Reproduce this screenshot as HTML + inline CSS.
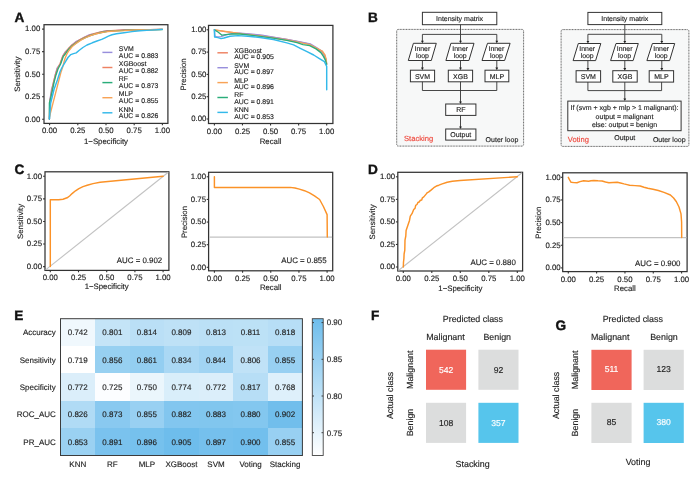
<!DOCTYPE html>
<html lang="en"><head><meta charset="utf-8"><title>Figure</title>
<style>html,body{margin:0;padding:0;background:#fff}svg{display:block;filter:blur(0.35px)}text{text-rendering:geometricPrecision;stroke-width:0.14px;paint-order:stroke}</style>
</head><body>
<svg width="700" height="477" viewBox="0 0 700 477" font-family='"Liberation Sans", sans-serif'>
<rect width="700" height="477" fill="#fff"/>
<text x="14.4" y="22.3" font-size="13.6" font-weight="bold" fill="#111" stroke="#111" style="stroke-width:0.4px">A</text>
<text x="368.1" y="22.3" font-size="13.6" font-weight="bold" fill="#111" stroke="#111" style="stroke-width:0.4px">B</text>
<text x="14.4" y="173.9" font-size="13.6" font-weight="bold" fill="#111" stroke="#111" style="stroke-width:0.4px">C</text>
<text x="368.0" y="173.9" font-size="13.6" font-weight="bold" fill="#111" stroke="#111" style="stroke-width:0.4px">D</text>
<text x="14.3" y="320.0" font-size="13.6" font-weight="bold" fill="#111" stroke="#111" style="stroke-width:0.4px">E</text>
<text x="371.0" y="320.0" font-size="13.6" font-weight="bold" fill="#111" stroke="#111" style="stroke-width:0.4px">F</text>
<text x="555.6" y="329.9" font-size="13.6" font-weight="bold" fill="#111" stroke="#111" style="stroke-width:0.4px">G</text>
<rect x="44.00" y="24.70" width="123.90" height="98.70" fill="#fff" stroke="#333" stroke-width="1.25"/>
<line x1="49.60" y1="123.40" x2="49.60" y2="125.30" stroke="#333" stroke-width="1.1"/>
<text x="49.60" y="133.29" font-size="7.8" text-anchor="middle" fill="#222" stroke="#222">0.00</text>
<line x1="42.10" y1="119.30" x2="44.00" y2="119.30" stroke="#333" stroke-width="1.1"/>
<text x="40.30" y="121.69" font-size="7.8" text-anchor="end" fill="#222" stroke="#222">0.00</text>
<line x1="77.80" y1="123.40" x2="77.80" y2="125.30" stroke="#333" stroke-width="1.1"/>
<text x="77.80" y="133.29" font-size="7.8" text-anchor="middle" fill="#222" stroke="#222">0.25</text>
<line x1="42.10" y1="96.75" x2="44.00" y2="96.75" stroke="#333" stroke-width="1.1"/>
<text x="40.30" y="99.14" font-size="7.8" text-anchor="end" fill="#222" stroke="#222">0.25</text>
<line x1="106.00" y1="123.40" x2="106.00" y2="125.30" stroke="#333" stroke-width="1.1"/>
<text x="106.00" y="133.29" font-size="7.8" text-anchor="middle" fill="#222" stroke="#222">0.50</text>
<line x1="42.10" y1="74.20" x2="44.00" y2="74.20" stroke="#333" stroke-width="1.1"/>
<text x="40.30" y="76.59" font-size="7.8" text-anchor="end" fill="#222" stroke="#222">0.50</text>
<line x1="134.20" y1="123.40" x2="134.20" y2="125.30" stroke="#333" stroke-width="1.1"/>
<text x="134.20" y="133.29" font-size="7.8" text-anchor="middle" fill="#222" stroke="#222">0.75</text>
<line x1="42.10" y1="51.65" x2="44.00" y2="51.65" stroke="#333" stroke-width="1.1"/>
<text x="40.30" y="54.04" font-size="7.8" text-anchor="end" fill="#222" stroke="#222">0.75</text>
<line x1="162.40" y1="123.40" x2="162.40" y2="125.30" stroke="#333" stroke-width="1.1"/>
<text x="162.40" y="133.29" font-size="7.8" text-anchor="middle" fill="#222" stroke="#222">1.00</text>
<line x1="42.10" y1="29.10" x2="44.00" y2="29.10" stroke="#333" stroke-width="1.1"/>
<text x="40.30" y="31.49" font-size="7.8" text-anchor="end" fill="#222" stroke="#222">1.00</text>
<text x="106.00" y="143.99" font-size="7.8" text-anchor="middle" fill="#222" stroke="#222">1−Specificity</text>
<text transform="translate(16.80 74.20) rotate(-90)" x="0" y="2.79" font-size="7.8" text-anchor="middle" fill="#222" stroke="#222">Sensitivity</text>
<polyline points="49.4,119.0 49.8,108.2 49.9,100.2 51.6,89.1 53.7,82.2 55.3,74.7 57.1,68.1 60.3,63.8 62.7,56.1 65.1,52.1 68.4,49.0 71.9,44.9 75.8,41.7 80.2,39.7 84.2,37.3 89.6,34.6 95.2,33.6 100.9,31.9 106.7,30.6 115.2,30.6 123.9,29.9 135.0,29.8 150.0,29.6 162.4,29.4" fill="none" stroke="#988fdc" stroke-width="1.35" stroke-linejoin="round" stroke-linecap="round"/>
<polyline points="49.4,119.0 49.6,108.0 50.0,100.3 52.0,89.5 53.5,82.0 55.4,74.8 57.5,68.5 60.1,63.6 62.8,56.2 65.5,52.5 68.2,48.8 72.0,45.0 76.2,42.1 80.0,39.5 84.3,37.4 90.0,35.0 95.0,33.4 101.0,32.0 107.1,31.0 115.0,30.4 124.0,30.0 135.0,29.8 150.0,29.6 162.4,29.4" fill="none" stroke="#ee8262" stroke-width="1.35" stroke-linejoin="round" stroke-linecap="round"/>
<polyline points="49.4,119.0 49.4,103.0 50.3,99.6 52.5,90.0 54.0,82.5 55.9,75.2 58.0,69.0 60.6,64.0 63.2,56.7 66.0,53.0 68.7,49.2 72.5,45.5 76.7,42.6 80.5,40.0 84.8,37.9 90.5,35.5 95.5,33.9 101.5,32.5 107.5,31.4 115.5,30.8 124.5,30.4 135.0,29.9 150.0,29.8 162.4,29.5" fill="none" stroke="#2aad7a" stroke-width="1.35" stroke-linejoin="round" stroke-linecap="round"/>
<polyline points="49.4,117.0 60.8,72.8 62.8,66.7 64.0,62.0 65.2,58.0 66.8,54.2 69.0,50.5 72.0,46.8 76.0,43.5 80.5,40.4 85.0,38.0 90.5,35.6 95.5,34.0 101.5,32.6 107.6,31.6 115.5,31.0 124.5,30.6 135.0,29.8 150.0,29.6 162.4,29.4" fill="none" stroke="#f8a356" stroke-width="1.35" stroke-linejoin="round" stroke-linecap="round"/>
<polyline points="49.4,119.0 50.7,103.0 54.0,89.5 57.4,80.0 60.1,71.5 62.0,67.5 65.5,61.6 68.0,57.5 70.8,54.6 73.5,53.6 76.2,52.9 79.0,50.5 82.9,47.5 87.0,45.0 92.3,42.8 97.0,41.0 101.7,39.4 105.0,37.8 108.4,36.1 112.0,34.8 116.5,33.7 124.0,32.7 132.0,31.6 140.0,30.8 150.0,30.1 162.4,29.4" fill="none" stroke="#33b9ea" stroke-width="1.45" stroke-linejoin="round" stroke-linecap="round"/>
<line x1="102.4" y1="52.40" x2="112.4" y2="52.40" stroke="#988fdc" stroke-width="1.45"/>
<text x="118.80" y="51.17" font-size="6.9" fill="#222" stroke="#222">SVM</text>
<text x="118.80" y="57.97" font-size="6.9" fill="#222" stroke="#222">AUC = 0.883</text>
<line x1="102.4" y1="67.50" x2="112.4" y2="67.50" stroke="#ee8262" stroke-width="1.45"/>
<text x="118.80" y="66.27" font-size="6.9" fill="#222" stroke="#222">XGBoost</text>
<text x="118.80" y="73.07" font-size="6.9" fill="#222" stroke="#222">AUC = 0.882</text>
<line x1="102.4" y1="82.60" x2="112.4" y2="82.60" stroke="#2aad7a" stroke-width="1.45"/>
<text x="118.80" y="81.37" font-size="6.9" fill="#222" stroke="#222">RF</text>
<text x="118.80" y="88.17" font-size="6.9" fill="#222" stroke="#222">AUC = 0.873</text>
<line x1="102.4" y1="97.70" x2="112.4" y2="97.70" stroke="#f8a356" stroke-width="1.45"/>
<text x="118.80" y="96.47" font-size="6.9" fill="#222" stroke="#222">MLP</text>
<text x="118.80" y="103.27" font-size="6.9" fill="#222" stroke="#222">AUC = 0.855</text>
<line x1="102.4" y1="112.80" x2="112.4" y2="112.80" stroke="#33b9ea" stroke-width="1.45"/>
<text x="118.80" y="111.57" font-size="6.9" fill="#222" stroke="#222">KNN</text>
<text x="118.80" y="118.37" font-size="6.9" fill="#222" stroke="#222">AUC = 0.826</text>
<rect x="208.50" y="25.40" width="124.40" height="98.10" fill="#fff" stroke="#333" stroke-width="1.25"/>
<line x1="214.40" y1="123.50" x2="214.40" y2="125.40" stroke="#333" stroke-width="1.1"/>
<text x="214.40" y="133.59" font-size="7.8" text-anchor="middle" fill="#222" stroke="#222">0.00</text>
<line x1="206.60" y1="119.00" x2="208.50" y2="119.00" stroke="#333" stroke-width="1.1"/>
<text x="206.40" y="121.39" font-size="7.8" text-anchor="end" fill="#222" stroke="#222">0.00</text>
<line x1="242.47" y1="123.50" x2="242.47" y2="125.40" stroke="#333" stroke-width="1.1"/>
<text x="242.47" y="133.59" font-size="7.8" text-anchor="middle" fill="#222" stroke="#222">0.25</text>
<line x1="206.60" y1="96.70" x2="208.50" y2="96.70" stroke="#333" stroke-width="1.1"/>
<text x="206.40" y="99.09" font-size="7.8" text-anchor="end" fill="#222" stroke="#222">0.25</text>
<line x1="270.55" y1="123.50" x2="270.55" y2="125.40" stroke="#333" stroke-width="1.1"/>
<text x="270.55" y="133.59" font-size="7.8" text-anchor="middle" fill="#222" stroke="#222">0.50</text>
<line x1="206.60" y1="74.40" x2="208.50" y2="74.40" stroke="#333" stroke-width="1.1"/>
<text x="206.40" y="76.79" font-size="7.8" text-anchor="end" fill="#222" stroke="#222">0.50</text>
<line x1="298.62" y1="123.50" x2="298.62" y2="125.40" stroke="#333" stroke-width="1.1"/>
<text x="298.62" y="133.59" font-size="7.8" text-anchor="middle" fill="#222" stroke="#222">0.75</text>
<line x1="206.60" y1="52.10" x2="208.50" y2="52.10" stroke="#333" stroke-width="1.1"/>
<text x="206.40" y="54.49" font-size="7.8" text-anchor="end" fill="#222" stroke="#222">0.75</text>
<line x1="326.70" y1="123.50" x2="326.70" y2="125.40" stroke="#333" stroke-width="1.1"/>
<text x="326.70" y="133.59" font-size="7.8" text-anchor="middle" fill="#222" stroke="#222">1.00</text>
<line x1="206.60" y1="29.80" x2="208.50" y2="29.80" stroke="#333" stroke-width="1.1"/>
<text x="206.40" y="32.19" font-size="7.8" text-anchor="end" fill="#222" stroke="#222">1.00</text>
<text x="270.55" y="143.79" font-size="7.8" text-anchor="middle" fill="#222" stroke="#222">Recall</text>
<text transform="translate(183.40 74.40) rotate(-90)" x="0" y="2.79" font-size="7.8" text-anchor="middle" fill="#222" stroke="#222">Precision</text>
<polyline points="214.4,29.8 225.0,31.6 240.0,33.4 260.0,35.5 273.4,37.5 286.8,39.5 300.3,42.2 309.7,44.2 316.4,48.3 321.7,51.6 324.4,55.6 326.0,60.0 326.6,64.0" fill="none" stroke="#ee8262" stroke-width="1.35" stroke-linejoin="round" stroke-linecap="round"/>
<polyline points="214.4,30.5 214.9,36.0 217.0,37.0 221.0,36.6 226.0,34.8 232.0,33.6 240.0,33.2 252.0,34.2 262.0,35.2 273.4,37.2 286.8,39.3 300.3,42.0 310.2,43.8 316.9,47.8 322.0,51.2 324.8,56.0 326.2,60.5 326.6,64.0" fill="none" stroke="#988fdc" stroke-width="1.35" stroke-linejoin="round" stroke-linecap="round"/>
<polyline points="214.4,29.8 222.0,30.8 232.0,32.4 244.0,34.2 260.0,36.0 273.4,38.0 286.8,40.0 300.3,42.7 309.7,44.7 316.4,48.0 322.2,51.0 325.0,55.0 326.3,60.0 326.6,64.0" fill="none" stroke="#f8a356" stroke-width="1.35" stroke-linejoin="round" stroke-linecap="round"/>
<polyline points="214.4,29.8 218.0,32.0 222.0,35.2 226.0,34.6 232.0,33.8 240.0,34.0 250.0,35.2 260.0,36.4 273.4,38.2 286.8,40.3 297.0,42.6 303.0,44.6 309.7,45.6 316.0,48.9 320.9,52.6 323.6,56.6 325.6,60.6 326.6,64.5" fill="none" stroke="#2aad7a" stroke-width="1.35" stroke-linejoin="round" stroke-linecap="round"/>
<polyline points="214.4,29.8 214.6,37.0 218.0,37.6 221.0,38.6 224.0,38.0 230.0,36.2 238.0,35.6 248.0,36.2 260.0,37.5 273.4,39.5 286.8,42.9 293.6,44.9 300.3,48.3 307.0,51.6 313.7,55.0 319.0,58.3 324.4,61.7 326.7,66.4 326.7,89.8" fill="none" stroke="#33b9ea" stroke-width="1.45" stroke-linejoin="round" stroke-linecap="round"/>
<line x1="217.4" y1="52.80" x2="227.9" y2="52.80" stroke="#ee8262" stroke-width="1.45"/>
<text x="234.20" y="52.77" font-size="6.9" fill="#222" stroke="#222">XGBoost</text>
<text x="234.20" y="59.27" font-size="6.9" fill="#222" stroke="#222">AUC = 0.905</text>
<line x1="217.4" y1="67.70" x2="227.9" y2="67.70" stroke="#988fdc" stroke-width="1.45"/>
<text x="234.20" y="67.67" font-size="6.9" fill="#222" stroke="#222">SVM</text>
<text x="234.20" y="74.17" font-size="6.9" fill="#222" stroke="#222">AUC = 0.897</text>
<line x1="217.4" y1="82.60" x2="227.9" y2="82.60" stroke="#f8a356" stroke-width="1.45"/>
<text x="234.20" y="82.57" font-size="6.9" fill="#222" stroke="#222">MLP</text>
<text x="234.20" y="89.07" font-size="6.9" fill="#222" stroke="#222">AUC = 0.896</text>
<line x1="217.4" y1="97.50" x2="227.9" y2="97.50" stroke="#2aad7a" stroke-width="1.45"/>
<text x="234.20" y="97.47" font-size="6.9" fill="#222" stroke="#222">RF</text>
<text x="234.20" y="103.97" font-size="6.9" fill="#222" stroke="#222">AUC = 0.891</text>
<line x1="217.4" y1="112.40" x2="227.9" y2="112.40" stroke="#33b9ea" stroke-width="1.45"/>
<text x="234.20" y="112.37" font-size="6.9" fill="#222" stroke="#222">KNN</text>
<text x="234.20" y="118.87" font-size="6.9" fill="#222" stroke="#222">AUC = 0.853</text>
<rect x="45.00" y="171.80" width="123.90" height="98.60" fill="#fff" stroke="#333" stroke-width="1.25"/>
<line x1="50.30" y1="270.40" x2="50.30" y2="272.30" stroke="#333" stroke-width="1.1"/>
<text x="50.30" y="279.89" font-size="7.8" text-anchor="middle" fill="#222" stroke="#222">0.00</text>
<line x1="43.10" y1="266.60" x2="45.00" y2="266.60" stroke="#333" stroke-width="1.1"/>
<text x="42.00" y="268.99" font-size="7.8" text-anchor="end" fill="#222" stroke="#222">0.00</text>
<line x1="78.50" y1="270.40" x2="78.50" y2="272.30" stroke="#333" stroke-width="1.1"/>
<text x="78.50" y="279.89" font-size="7.8" text-anchor="middle" fill="#222" stroke="#222">0.25</text>
<line x1="43.10" y1="244.03" x2="45.00" y2="244.03" stroke="#333" stroke-width="1.1"/>
<text x="42.00" y="246.42" font-size="7.8" text-anchor="end" fill="#222" stroke="#222">0.25</text>
<line x1="106.70" y1="270.40" x2="106.70" y2="272.30" stroke="#333" stroke-width="1.1"/>
<text x="106.70" y="279.89" font-size="7.8" text-anchor="middle" fill="#222" stroke="#222">0.50</text>
<line x1="43.10" y1="221.45" x2="45.00" y2="221.45" stroke="#333" stroke-width="1.1"/>
<text x="42.00" y="223.84" font-size="7.8" text-anchor="end" fill="#222" stroke="#222">0.50</text>
<line x1="134.90" y1="270.40" x2="134.90" y2="272.30" stroke="#333" stroke-width="1.1"/>
<text x="134.90" y="279.89" font-size="7.8" text-anchor="middle" fill="#222" stroke="#222">0.75</text>
<line x1="43.10" y1="198.88" x2="45.00" y2="198.88" stroke="#333" stroke-width="1.1"/>
<text x="42.00" y="201.27" font-size="7.8" text-anchor="end" fill="#222" stroke="#222">0.75</text>
<line x1="163.10" y1="270.40" x2="163.10" y2="272.30" stroke="#333" stroke-width="1.1"/>
<text x="163.10" y="279.89" font-size="7.8" text-anchor="middle" fill="#222" stroke="#222">1.00</text>
<line x1="43.10" y1="176.30" x2="45.00" y2="176.30" stroke="#333" stroke-width="1.1"/>
<text x="42.00" y="178.69" font-size="7.8" text-anchor="end" fill="#222" stroke="#222">1.00</text>
<text x="106.70" y="289.09" font-size="7.8" text-anchor="middle" fill="#222" stroke="#222">1−Specificity</text>
<text transform="translate(20.50 221.45) rotate(-90)" x="0" y="2.79" font-size="7.8" text-anchor="middle" fill="#222" stroke="#222">Sensitivity</text>
<line x1="45.6" y1="269.9" x2="168.3" y2="172.3" stroke="#c2c2c2" stroke-width="1.1"/>
<polyline points="50.3,266.6 50.3,199.8 58.7,199.8 63.0,199.2 67.1,197.8 69.6,196.0 72.1,193.6 75.5,190.8 78.9,188.6 83.0,186.6 87.2,185.2 93.0,183.6 100.1,182.3 163.1,176.3" fill="none" stroke="#fb9227" stroke-width="1.45" stroke-linejoin="round" stroke-linecap="round"/>
<text x="162.20" y="263.03" font-size="7.9" text-anchor="end" fill="#222" stroke="#222">AUC = 0.902</text>
<rect x="208.60" y="172.30" width="124.10" height="98.50" fill="#fff" stroke="#333" stroke-width="1.25"/>
<line x1="214.40" y1="270.80" x2="214.40" y2="272.70" stroke="#333" stroke-width="1.1"/>
<text x="214.40" y="280.69" font-size="7.8" text-anchor="middle" fill="#222" stroke="#222">0.00</text>
<line x1="206.70" y1="267.30" x2="208.60" y2="267.30" stroke="#333" stroke-width="1.1"/>
<text x="206.00" y="269.69" font-size="7.8" text-anchor="end" fill="#222" stroke="#222">0.00</text>
<line x1="242.58" y1="270.80" x2="242.58" y2="272.70" stroke="#333" stroke-width="1.1"/>
<text x="242.58" y="280.69" font-size="7.8" text-anchor="middle" fill="#222" stroke="#222">0.25</text>
<line x1="206.70" y1="244.68" x2="208.60" y2="244.68" stroke="#333" stroke-width="1.1"/>
<text x="206.00" y="247.07" font-size="7.8" text-anchor="end" fill="#222" stroke="#222">0.25</text>
<line x1="270.75" y1="270.80" x2="270.75" y2="272.70" stroke="#333" stroke-width="1.1"/>
<text x="270.75" y="280.69" font-size="7.8" text-anchor="middle" fill="#222" stroke="#222">0.50</text>
<line x1="206.70" y1="222.05" x2="208.60" y2="222.05" stroke="#333" stroke-width="1.1"/>
<text x="206.00" y="224.44" font-size="7.8" text-anchor="end" fill="#222" stroke="#222">0.50</text>
<line x1="298.93" y1="270.80" x2="298.93" y2="272.70" stroke="#333" stroke-width="1.1"/>
<text x="298.93" y="280.69" font-size="7.8" text-anchor="middle" fill="#222" stroke="#222">0.75</text>
<line x1="206.70" y1="199.43" x2="208.60" y2="199.43" stroke="#333" stroke-width="1.1"/>
<text x="206.00" y="201.82" font-size="7.8" text-anchor="end" fill="#222" stroke="#222">0.75</text>
<line x1="327.10" y1="270.80" x2="327.10" y2="272.70" stroke="#333" stroke-width="1.1"/>
<text x="327.10" y="280.69" font-size="7.8" text-anchor="middle" fill="#222" stroke="#222">1.00</text>
<line x1="206.70" y1="176.80" x2="208.60" y2="176.80" stroke="#333" stroke-width="1.1"/>
<text x="206.00" y="179.19" font-size="7.8" text-anchor="end" fill="#222" stroke="#222">1.00</text>
<text x="270.75" y="289.89" font-size="7.8" text-anchor="middle" fill="#222" stroke="#222">Recall</text>
<text transform="translate(184.40 222.05) rotate(-90)" x="0" y="2.79" font-size="7.8" text-anchor="middle" fill="#222" stroke="#222">Precision</text>
<line x1="209.2" y1="237.1" x2="332.1" y2="237.1" stroke="#c2c2c2" stroke-width="1.2"/>
<polyline points="214.4,176.8 214.4,187.4 290.2,187.4 295.0,188.0 299.4,189.1 304.5,190.7 309.5,192.8 314.5,195.8 319.6,199.5 323.4,206.5 327.1,214.6 327.3,237.1" fill="none" stroke="#fb9227" stroke-width="1.45" stroke-linejoin="round" stroke-linecap="round"/>
<text x="326.60" y="263.03" font-size="7.9" text-anchor="end" fill="#222" stroke="#222">AUC = 0.855</text>
<rect x="397.80" y="172.30" width="124.80" height="98.70" fill="#fff" stroke="#333" stroke-width="1.25"/>
<line x1="403.30" y1="271.00" x2="403.30" y2="272.90" stroke="#333" stroke-width="1.1"/>
<text x="403.30" y="281.29" font-size="7.8" text-anchor="middle" fill="#222" stroke="#222">0.00</text>
<line x1="395.90" y1="267.00" x2="397.80" y2="267.00" stroke="#333" stroke-width="1.1"/>
<text x="395.20" y="269.39" font-size="7.8" text-anchor="end" fill="#222" stroke="#222">0.00</text>
<line x1="431.80" y1="271.00" x2="431.80" y2="272.90" stroke="#333" stroke-width="1.1"/>
<text x="431.80" y="281.29" font-size="7.8" text-anchor="middle" fill="#222" stroke="#222">0.25</text>
<line x1="395.90" y1="244.45" x2="397.80" y2="244.45" stroke="#333" stroke-width="1.1"/>
<text x="395.20" y="246.84" font-size="7.8" text-anchor="end" fill="#222" stroke="#222">0.25</text>
<line x1="460.30" y1="271.00" x2="460.30" y2="272.90" stroke="#333" stroke-width="1.1"/>
<text x="460.30" y="281.29" font-size="7.8" text-anchor="middle" fill="#222" stroke="#222">0.50</text>
<line x1="395.90" y1="221.90" x2="397.80" y2="221.90" stroke="#333" stroke-width="1.1"/>
<text x="395.20" y="224.29" font-size="7.8" text-anchor="end" fill="#222" stroke="#222">0.50</text>
<line x1="488.80" y1="271.00" x2="488.80" y2="272.90" stroke="#333" stroke-width="1.1"/>
<text x="488.80" y="281.29" font-size="7.8" text-anchor="middle" fill="#222" stroke="#222">0.75</text>
<line x1="395.90" y1="199.35" x2="397.80" y2="199.35" stroke="#333" stroke-width="1.1"/>
<text x="395.20" y="201.74" font-size="7.8" text-anchor="end" fill="#222" stroke="#222">0.75</text>
<line x1="517.30" y1="271.00" x2="517.30" y2="272.90" stroke="#333" stroke-width="1.1"/>
<text x="517.30" y="281.29" font-size="7.8" text-anchor="middle" fill="#222" stroke="#222">1.00</text>
<line x1="395.90" y1="176.80" x2="397.80" y2="176.80" stroke="#333" stroke-width="1.1"/>
<text x="395.20" y="179.19" font-size="7.8" text-anchor="end" fill="#222" stroke="#222">1.00</text>
<text x="460.30" y="290.69" font-size="7.8" text-anchor="middle" fill="#222" stroke="#222">1−Specificity</text>
<text transform="translate(371.80 221.90) rotate(-90)" x="0" y="2.79" font-size="7.8" text-anchor="middle" fill="#222" stroke="#222">Sensitivity</text>
<line x1="398.4" y1="270.5" x2="522.0" y2="172.8" stroke="#c2c2c2" stroke-width="1.1"/>
<polyline points="403.3,267.0 403.5,262.0 403.9,258.6 404.1,254.0 404.8,250.2 404.9,245.0 405.0,240.1 405.8,236.0 406.1,230.5 407.8,225.5 409.5,220.4 410.3,216.2 412.0,213.7 413.7,209.5 415.0,208.4 415.7,205.3 417.0,204.5 417.9,202.5 419.1,202.0 420.4,200.3 421.7,200.0 422.4,197.8 423.8,196.9 426.3,193.9 427.1,192.8 428.8,191.9 431.3,189.9 433.8,187.7 437.2,185.7 438.9,185.2 442.2,183.9 447.2,182.2 452.3,181.2 460.0,180.5 517.3,176.8" fill="none" stroke="#fb9227" stroke-width="1.45" stroke-linejoin="round" stroke-linecap="round"/>
<text x="515.80" y="265.03" font-size="7.9" text-anchor="end" fill="#222" stroke="#222">AUC = 0.880</text>
<rect x="562.70" y="172.80" width="124.40" height="98.80" fill="#fff" stroke="#333" stroke-width="1.25"/>
<line x1="568.30" y1="271.60" x2="568.30" y2="273.50" stroke="#333" stroke-width="1.1"/>
<text x="568.30" y="281.79" font-size="7.8" text-anchor="middle" fill="#222" stroke="#222">0.00</text>
<line x1="560.80" y1="267.90" x2="562.70" y2="267.90" stroke="#333" stroke-width="1.1"/>
<text x="560.60" y="270.29" font-size="7.8" text-anchor="end" fill="#222" stroke="#222">0.00</text>
<line x1="596.62" y1="271.60" x2="596.62" y2="273.50" stroke="#333" stroke-width="1.1"/>
<text x="596.62" y="281.79" font-size="7.8" text-anchor="middle" fill="#222" stroke="#222">0.25</text>
<line x1="560.80" y1="245.25" x2="562.70" y2="245.25" stroke="#333" stroke-width="1.1"/>
<text x="560.60" y="247.64" font-size="7.8" text-anchor="end" fill="#222" stroke="#222">0.25</text>
<line x1="624.95" y1="271.60" x2="624.95" y2="273.50" stroke="#333" stroke-width="1.1"/>
<text x="624.95" y="281.79" font-size="7.8" text-anchor="middle" fill="#222" stroke="#222">0.50</text>
<line x1="560.80" y1="222.60" x2="562.70" y2="222.60" stroke="#333" stroke-width="1.1"/>
<text x="560.60" y="224.99" font-size="7.8" text-anchor="end" fill="#222" stroke="#222">0.50</text>
<line x1="653.27" y1="271.60" x2="653.27" y2="273.50" stroke="#333" stroke-width="1.1"/>
<text x="653.27" y="281.79" font-size="7.8" text-anchor="middle" fill="#222" stroke="#222">0.75</text>
<line x1="560.80" y1="199.95" x2="562.70" y2="199.95" stroke="#333" stroke-width="1.1"/>
<text x="560.60" y="202.34" font-size="7.8" text-anchor="end" fill="#222" stroke="#222">0.75</text>
<line x1="681.60" y1="271.60" x2="681.60" y2="273.50" stroke="#333" stroke-width="1.1"/>
<text x="681.60" y="281.79" font-size="7.8" text-anchor="middle" fill="#222" stroke="#222">1.00</text>
<line x1="560.80" y1="177.30" x2="562.70" y2="177.30" stroke="#333" stroke-width="1.1"/>
<text x="560.60" y="179.69" font-size="7.8" text-anchor="end" fill="#222" stroke="#222">1.00</text>
<text x="624.95" y="291.19" font-size="7.8" text-anchor="middle" fill="#222" stroke="#222">Recall</text>
<text transform="translate(538.20 222.60) rotate(-90)" x="0" y="2.79" font-size="7.8" text-anchor="middle" fill="#222" stroke="#222">Precision</text>
<line x1="563.3" y1="237.6" x2="686.5" y2="237.6" stroke="#c2c2c2" stroke-width="1.2"/>
<polyline points="568.3,177.3 569.6,179.8 571.1,182.3 574.0,182.6 577.0,182.7 580.0,181.6 583.7,180.7 586.0,181.0 588.7,181.3 591.0,180.8 593.8,180.5 598.0,180.8 602.1,181.0 605.5,182.0 608.9,182.7 613.0,182.5 617.2,182.3 620.5,183.0 624.0,183.9 627.0,184.6 629.6,185.2 635.0,185.6 640.2,186.0 644.0,187.2 647.8,188.2 653.0,189.2 658.3,190.5 664.0,192.4 670.4,195.0 673.6,198.0 676.4,201.8 679.0,207.0 681.0,213.9 681.6,222.0 681.7,237.6" fill="none" stroke="#fb9227" stroke-width="1.45" stroke-linejoin="round" stroke-linecap="round"/>
<text x="680.50" y="265.63" font-size="7.9" text-anchor="end" fill="#222" stroke="#222">AUC = 0.900</text>
<rect x="396.70" y="29.40" width="126.90" height="116.70" rx="1.6" fill="#f7f8f8" stroke="#3a3a3a" stroke-width="0.8" stroke-dasharray="0.95 0.6"/>
<rect x="422.40" y="12.30" width="74.40" height="12.40" fill="#fff" stroke="#333" stroke-width="1.0"/>
<text x="459.60" y="21.11" font-size="7.0" text-anchor="middle" fill="#222" stroke="#222">Intensity matrix</text>
<line x1="460.50" y1="24.70" x2="460.50" y2="34.40" stroke="#333" stroke-width="0.9"/>
<line x1="422.40" y1="34.40" x2="496.80" y2="34.40" stroke="#333" stroke-width="0.9"/>
<line x1="422.40" y1="34.40" x2="422.40" y2="41.80" stroke="#333" stroke-width="0.9"/>
<path d="M421.00 40.70 L423.80 40.70 L422.40 43.30 Z" fill="#222"/>
<line x1="460.50" y1="34.40" x2="460.50" y2="41.80" stroke="#333" stroke-width="0.9"/>
<path d="M459.10 40.70 L461.90 40.70 L460.50 43.30 Z" fill="#222"/>
<line x1="496.80" y1="34.40" x2="496.80" y2="41.80" stroke="#333" stroke-width="0.9"/>
<path d="M495.40 40.70 L498.20 40.70 L496.80 43.30 Z" fill="#222"/>
<path d="M413.40 43.30 L436.30 43.30 L431.30 60.50 L408.30 60.50 Z" fill="#fff" stroke="#333" stroke-width="1"/>
<text x="422.40" y="51.07" font-size="6.9" text-anchor="middle" fill="#222" stroke="#222">Inner</text>
<text x="422.40" y="57.77" font-size="6.9" text-anchor="middle" fill="#222" stroke="#222">loop</text>
<path d="M450.90 43.30 L474.00 43.30 L468.90 60.50 L445.90 60.50 Z" fill="#fff" stroke="#333" stroke-width="1"/>
<text x="460.20" y="51.07" font-size="6.9" text-anchor="middle" fill="#222" stroke="#222">Inner</text>
<text x="460.20" y="57.77" font-size="6.9" text-anchor="middle" fill="#222" stroke="#222">loop</text>
<path d="M487.50 43.30 L510.10 43.30 L504.60 60.50 L482.00 60.50 Z" fill="#fff" stroke="#333" stroke-width="1"/>
<text x="496.40" y="51.07" font-size="6.9" text-anchor="middle" fill="#222" stroke="#222">Inner</text>
<text x="496.40" y="57.77" font-size="6.9" text-anchor="middle" fill="#222" stroke="#222">loop</text>
<line x1="422.40" y1="60.50" x2="422.40" y2="68.70" stroke="#333" stroke-width="0.9"/>
<path d="M421.00 67.60 L423.80 67.60 L422.40 70.20 Z" fill="#222"/>
<line x1="460.50" y1="60.50" x2="460.50" y2="68.70" stroke="#333" stroke-width="0.9"/>
<path d="M459.10 67.60 L461.90 67.60 L460.50 70.20 Z" fill="#222"/>
<line x1="496.80" y1="60.50" x2="496.80" y2="68.70" stroke="#333" stroke-width="0.9"/>
<path d="M495.40 67.60 L498.20 67.60 L496.80 70.20 Z" fill="#222"/>
<rect x="410.40" y="70.20" width="24.20" height="11.60" fill="#fff" stroke="#333" stroke-width="1.0"/>
<text x="422.50" y="78.61" font-size="7.0" text-anchor="middle" fill="#222" stroke="#222">SVM</text>
<rect x="448.30" y="70.20" width="24.30" height="11.60" fill="#fff" stroke="#333" stroke-width="1.0"/>
<text x="460.45" y="78.61" font-size="7.0" text-anchor="middle" fill="#222" stroke="#222">XGB</text>
<rect x="485.00" y="70.20" width="23.80" height="11.60" fill="#fff" stroke="#333" stroke-width="1.0"/>
<text x="496.90" y="78.61" font-size="7.0" text-anchor="middle" fill="#222" stroke="#222">MLP</text>
<line x1="422.40" y1="81.80" x2="422.40" y2="90.50" stroke="#333" stroke-width="0.9"/>
<line x1="496.80" y1="81.80" x2="496.80" y2="90.50" stroke="#333" stroke-width="0.9"/>
<line x1="422.40" y1="90.50" x2="496.80" y2="90.50" stroke="#333" stroke-width="0.9"/>
<line x1="460.50" y1="81.80" x2="460.50" y2="102.50" stroke="#333" stroke-width="0.9"/>
<path d="M459.10 101.40 L461.90 101.40 L460.50 104.00 Z" fill="#222"/>
<rect x="445.70" y="104.00" width="30.20" height="11.40" fill="#fff" stroke="#333" stroke-width="1.0"/>
<text x="460.80" y="112.31" font-size="7.0" text-anchor="middle" fill="#222" stroke="#222">RF</text>
<line x1="460.50" y1="115.40" x2="460.50" y2="127.50" stroke="#333" stroke-width="0.9"/>
<path d="M459.10 126.40 L461.90 126.40 L460.50 129.00 Z" fill="#222"/>
<rect x="445.70" y="129.00" width="30.20" height="11.10" fill="#fff" stroke="#333" stroke-width="1.0"/>
<text x="460.80" y="137.16" font-size="7.0" text-anchor="middle" fill="#222" stroke="#222">Output</text>
<text x="404.00" y="141.42" font-size="7.6" fill="#ef463b" stroke="#ef463b">Stacking</text>
<text x="485.60" y="142.11" font-size="7.0" fill="#222" stroke="#222">Outer loop</text>
<rect x="561.10" y="29.60" width="127.80" height="116.80" rx="1.6" fill="#f7f8f8" stroke="#3a3a3a" stroke-width="0.8" stroke-dasharray="0.95 0.6"/>
<rect x="587.90" y="12.40" width="73.90" height="12.20" fill="#fff" stroke="#333" stroke-width="1.0"/>
<text x="624.85" y="21.11" font-size="7.0" text-anchor="middle" fill="#222" stroke="#222">Intensity matrix</text>
<line x1="624.80" y1="24.60" x2="624.80" y2="34.30" stroke="#333" stroke-width="0.9"/>
<line x1="587.90" y1="34.30" x2="661.80" y2="34.30" stroke="#333" stroke-width="0.9"/>
<line x1="587.90" y1="34.30" x2="587.90" y2="42.00" stroke="#333" stroke-width="0.9"/>
<path d="M586.50 40.90 L589.30 40.90 L587.90 43.50 Z" fill="#222"/>
<line x1="624.80" y1="34.30" x2="624.80" y2="42.00" stroke="#333" stroke-width="0.9"/>
<path d="M623.40 40.90 L626.20 40.90 L624.80 43.50 Z" fill="#222"/>
<line x1="661.80" y1="34.30" x2="661.80" y2="42.00" stroke="#333" stroke-width="0.9"/>
<path d="M660.40 40.90 L663.20 40.90 L661.80 43.50 Z" fill="#222"/>
<path d="M578.30 43.50 L600.80 43.50 L595.60 60.60 L573.10 60.60 Z" fill="#fff" stroke="#333" stroke-width="1"/>
<text x="587.20" y="51.27" font-size="6.9" text-anchor="middle" fill="#222" stroke="#222">Inner</text>
<text x="587.20" y="57.97" font-size="6.9" text-anchor="middle" fill="#222" stroke="#222">loop</text>
<path d="M616.00 43.50 L638.30 43.50 L633.10 60.60 L610.60 60.60 Z" fill="#fff" stroke="#333" stroke-width="1"/>
<text x="624.60" y="51.27" font-size="6.9" text-anchor="middle" fill="#222" stroke="#222">Inner</text>
<text x="624.60" y="57.97" font-size="6.9" text-anchor="middle" fill="#222" stroke="#222">loop</text>
<path d="M652.40 43.50 L674.70 43.50 L669.60 60.60 L646.90 60.60 Z" fill="#fff" stroke="#333" stroke-width="1"/>
<text x="661.20" y="51.27" font-size="6.9" text-anchor="middle" fill="#222" stroke="#222">Inner</text>
<text x="661.20" y="57.97" font-size="6.9" text-anchor="middle" fill="#222" stroke="#222">loop</text>
<line x1="587.90" y1="60.60" x2="587.90" y2="69.20" stroke="#333" stroke-width="0.9"/>
<path d="M586.50 68.10 L589.30 68.10 L587.90 70.70 Z" fill="#222"/>
<line x1="624.80" y1="60.60" x2="624.80" y2="69.20" stroke="#333" stroke-width="0.9"/>
<path d="M623.40 68.10 L626.20 68.10 L624.80 70.70 Z" fill="#222"/>
<line x1="661.80" y1="60.60" x2="661.80" y2="69.20" stroke="#333" stroke-width="0.9"/>
<path d="M660.40 68.10 L663.20 68.10 L661.80 70.70 Z" fill="#222"/>
<rect x="576.10" y="70.70" width="24.50" height="11.40" fill="#fff" stroke="#333" stroke-width="1.0"/>
<text x="588.35" y="79.01" font-size="7.0" text-anchor="middle" fill="#222" stroke="#222">SVM</text>
<rect x="612.80" y="70.70" width="24.40" height="11.40" fill="#fff" stroke="#333" stroke-width="1.0"/>
<text x="625.00" y="79.01" font-size="7.0" text-anchor="middle" fill="#222" stroke="#222">XGB</text>
<rect x="649.20" y="70.70" width="24.40" height="11.40" fill="#fff" stroke="#333" stroke-width="1.0"/>
<text x="661.40" y="79.01" font-size="7.0" text-anchor="middle" fill="#222" stroke="#222">MLP</text>
<line x1="587.90" y1="82.10" x2="587.90" y2="90.60" stroke="#333" stroke-width="0.9"/>
<line x1="661.60" y1="82.10" x2="661.60" y2="90.60" stroke="#333" stroke-width="0.9"/>
<line x1="587.90" y1="90.60" x2="661.60" y2="90.60" stroke="#333" stroke-width="0.9"/>
<line x1="624.80" y1="82.10" x2="624.80" y2="99.60" stroke="#333" stroke-width="0.9"/>
<path d="M623.40 98.50 L626.20 98.50 L624.80 101.10 Z" fill="#222"/>
<rect x="567.80" y="101.10" width="113.30" height="29.60" fill="#fff" stroke="#333" stroke-width="1.0"/>
<text x="624.50" y="110.21" font-size="7.0" text-anchor="middle" fill="#222" stroke="#222">If (svm + xgb + mlp &gt; 1 malignant):</text>
<text x="624.50" y="118.81" font-size="7.0" text-anchor="middle" fill="#222" stroke="#222">output = malignant</text>
<text x="624.50" y="126.91" font-size="7.0" text-anchor="middle" fill="#222" stroke="#222">else: output = benign</text>
<text x="567.80" y="142.02" font-size="7.6" fill="#ef463b" stroke="#ef463b">Voting</text>
<text x="624.80" y="140.31" font-size="7.0" text-anchor="middle" fill="#222" stroke="#222">Output</text>
<text x="652.90" y="142.21" font-size="7.0" fill="#222" stroke="#222">Outer loop</text>
<rect x="60.50" y="318.70" width="34.86" height="27.66" fill="#f0f8fd" shape-rendering="crispEdges"/>
<text x="77.78" y="335.24" font-size="8.0" text-anchor="middle" fill="#222" stroke="#222">0.742</text>
<rect x="95.06" y="318.70" width="34.86" height="27.66" fill="#c4e4f7" shape-rendering="crispEdges"/>
<text x="112.34" y="335.24" font-size="8.0" text-anchor="middle" fill="#222" stroke="#222">0.801</text>
<rect x="129.61" y="318.70" width="34.86" height="27.66" fill="#badff6" shape-rendering="crispEdges"/>
<text x="146.89" y="335.24" font-size="8.0" text-anchor="middle" fill="#222" stroke="#222">0.814</text>
<rect x="164.17" y="318.70" width="34.86" height="27.66" fill="#bee1f6" shape-rendering="crispEdges"/>
<text x="181.45" y="335.24" font-size="8.0" text-anchor="middle" fill="#222" stroke="#222">0.809</text>
<rect x="198.73" y="318.70" width="34.86" height="27.66" fill="#bbe0f6" shape-rendering="crispEdges"/>
<text x="216.01" y="335.24" font-size="8.0" text-anchor="middle" fill="#222" stroke="#222">0.813</text>
<rect x="233.29" y="318.70" width="34.86" height="27.66" fill="#bce1f6" shape-rendering="crispEdges"/>
<text x="250.56" y="335.24" font-size="8.0" text-anchor="middle" fill="#222" stroke="#222">0.811</text>
<rect x="267.84" y="318.70" width="34.86" height="27.66" fill="#b7def6" shape-rendering="crispEdges"/>
<text x="285.12" y="335.24" font-size="8.0" text-anchor="middle" fill="#222" stroke="#222">0.818</text>
<text x="55.80" y="335.24" font-size="8.0" text-anchor="end" fill="#222" stroke="#222">Accuracy</text>
<rect x="60.50" y="346.06" width="34.86" height="27.66" fill="#ffffff" shape-rendering="crispEdges"/>
<text x="77.78" y="362.60" font-size="8.0" text-anchor="middle" fill="#222" stroke="#222">0.719</text>
<rect x="95.06" y="346.06" width="34.86" height="27.66" fill="#97d0f1" shape-rendering="crispEdges"/>
<text x="112.34" y="362.60" font-size="8.0" text-anchor="middle" fill="#222" stroke="#222">0.856</text>
<rect x="129.61" y="346.06" width="34.86" height="27.66" fill="#93cef1" shape-rendering="crispEdges"/>
<text x="146.89" y="362.60" font-size="8.0" text-anchor="middle" fill="#222" stroke="#222">0.861</text>
<rect x="164.17" y="346.06" width="34.86" height="27.66" fill="#aad8f4" shape-rendering="crispEdges"/>
<text x="181.45" y="362.60" font-size="8.0" text-anchor="middle" fill="#222" stroke="#222">0.834</text>
<rect x="198.73" y="346.06" width="34.86" height="27.66" fill="#a1d4f3" shape-rendering="crispEdges"/>
<text x="216.01" y="362.60" font-size="8.0" text-anchor="middle" fill="#222" stroke="#222">0.844</text>
<rect x="233.29" y="346.06" width="34.86" height="27.66" fill="#c0e2f7" shape-rendering="crispEdges"/>
<text x="250.56" y="362.60" font-size="8.0" text-anchor="middle" fill="#222" stroke="#222">0.806</text>
<rect x="267.84" y="346.06" width="34.86" height="27.66" fill="#98d0f2" shape-rendering="crispEdges"/>
<text x="285.12" y="362.60" font-size="8.0" text-anchor="middle" fill="#222" stroke="#222">0.855</text>
<text x="55.80" y="362.60" font-size="8.0" text-anchor="end" fill="#222" stroke="#222">Sensitivity</text>
<rect x="60.50" y="373.42" width="34.86" height="27.66" fill="#dbeefa" shape-rendering="crispEdges"/>
<text x="77.78" y="389.96" font-size="8.0" text-anchor="middle" fill="#222" stroke="#222">0.772</text>
<rect x="95.06" y="373.42" width="34.86" height="27.66" fill="#fcfdff" shape-rendering="crispEdges"/>
<text x="112.34" y="389.96" font-size="8.0" text-anchor="middle" fill="#222" stroke="#222">0.725</text>
<rect x="129.61" y="373.42" width="34.86" height="27.66" fill="#ebf6fc" shape-rendering="crispEdges"/>
<text x="146.89" y="389.96" font-size="8.0" text-anchor="middle" fill="#222" stroke="#222">0.750</text>
<rect x="164.17" y="373.42" width="34.86" height="27.66" fill="#d9eefa" shape-rendering="crispEdges"/>
<text x="181.45" y="389.96" font-size="8.0" text-anchor="middle" fill="#222" stroke="#222">0.774</text>
<rect x="198.73" y="373.42" width="34.86" height="27.66" fill="#dbeefa" shape-rendering="crispEdges"/>
<text x="216.01" y="389.96" font-size="8.0" text-anchor="middle" fill="#222" stroke="#222">0.772</text>
<rect x="233.29" y="373.42" width="34.86" height="27.66" fill="#b7def6" shape-rendering="crispEdges"/>
<text x="250.56" y="389.96" font-size="8.0" text-anchor="middle" fill="#222" stroke="#222">0.817</text>
<rect x="267.84" y="373.42" width="34.86" height="27.66" fill="#def0fb" shape-rendering="crispEdges"/>
<text x="285.12" y="389.96" font-size="8.0" text-anchor="middle" fill="#222" stroke="#222">0.768</text>
<text x="55.80" y="389.96" font-size="8.0" text-anchor="end" fill="#222" stroke="#222">Specificity</text>
<rect x="60.50" y="400.78" width="34.86" height="27.66" fill="#b0dbf5" shape-rendering="crispEdges"/>
<text x="77.78" y="417.32" font-size="8.0" text-anchor="middle" fill="#222" stroke="#222">0.826</text>
<rect x="95.06" y="400.78" width="34.86" height="27.66" fill="#89c9f0" shape-rendering="crispEdges"/>
<text x="112.34" y="417.32" font-size="8.0" text-anchor="middle" fill="#222" stroke="#222">0.873</text>
<rect x="129.61" y="400.78" width="34.86" height="27.66" fill="#98d0f2" shape-rendering="crispEdges"/>
<text x="146.89" y="417.32" font-size="8.0" text-anchor="middle" fill="#222" stroke="#222">0.855</text>
<rect x="164.17" y="400.78" width="34.86" height="27.66" fill="#82c6ef" shape-rendering="crispEdges"/>
<text x="181.45" y="417.32" font-size="8.0" text-anchor="middle" fill="#222" stroke="#222">0.882</text>
<rect x="198.73" y="400.78" width="34.86" height="27.66" fill="#81c6ee" shape-rendering="crispEdges"/>
<text x="216.01" y="417.32" font-size="8.0" text-anchor="middle" fill="#222" stroke="#222">0.883</text>
<rect x="233.29" y="400.78" width="34.86" height="27.66" fill="#83c7ef" shape-rendering="crispEdges"/>
<text x="250.56" y="417.32" font-size="8.0" text-anchor="middle" fill="#222" stroke="#222">0.880</text>
<rect x="267.84" y="400.78" width="34.86" height="27.66" fill="#71beec" shape-rendering="crispEdges"/>
<text x="285.12" y="417.32" font-size="8.0" text-anchor="middle" fill="#222" stroke="#222">0.902</text>
<text x="55.80" y="417.32" font-size="8.0" text-anchor="end" fill="#222" stroke="#222">ROC_AUC</text>
<rect x="60.50" y="428.14" width="34.86" height="27.66" fill="#9ad1f2" shape-rendering="crispEdges"/>
<text x="77.78" y="444.68" font-size="8.0" text-anchor="middle" fill="#222" stroke="#222">0.853</text>
<rect x="95.06" y="428.14" width="34.86" height="27.66" fill="#7ac2ee" shape-rendering="crispEdges"/>
<text x="112.34" y="444.68" font-size="8.0" text-anchor="middle" fill="#222" stroke="#222">0.891</text>
<rect x="129.61" y="428.14" width="34.86" height="27.66" fill="#76c1ed" shape-rendering="crispEdges"/>
<text x="146.89" y="444.68" font-size="8.0" text-anchor="middle" fill="#222" stroke="#222">0.896</text>
<rect x="164.17" y="428.14" width="34.86" height="27.66" fill="#6ebdec" shape-rendering="crispEdges"/>
<text x="181.45" y="444.68" font-size="8.0" text-anchor="middle" fill="#222" stroke="#222">0.905</text>
<rect x="198.73" y="428.14" width="34.86" height="27.66" fill="#75c0ed" shape-rendering="crispEdges"/>
<text x="216.01" y="444.68" font-size="8.0" text-anchor="middle" fill="#222" stroke="#222">0.897</text>
<rect x="233.29" y="428.14" width="34.86" height="27.66" fill="#72bfed" shape-rendering="crispEdges"/>
<text x="250.56" y="444.68" font-size="8.0" text-anchor="middle" fill="#222" stroke="#222">0.900</text>
<rect x="267.84" y="428.14" width="34.86" height="27.66" fill="#98d0f2" shape-rendering="crispEdges"/>
<text x="285.12" y="444.68" font-size="8.0" text-anchor="middle" fill="#222" stroke="#222">0.855</text>
<text x="55.80" y="444.68" font-size="8.0" text-anchor="end" fill="#222" stroke="#222">PR_AUC</text>
<rect x="60.50" y="318.70" width="241.90" height="136.80" fill="none" stroke="#3c3c3c" stroke-width="1.0"/>
<text x="77.78" y="467.46" font-size="8.0" text-anchor="middle" fill="#222" stroke="#222">KNN</text>
<text x="112.34" y="467.46" font-size="8.0" text-anchor="middle" fill="#222" stroke="#222">RF</text>
<text x="146.89" y="467.46" font-size="8.0" text-anchor="middle" fill="#222" stroke="#222">MLP</text>
<text x="181.45" y="467.46" font-size="8.0" text-anchor="middle" fill="#222" stroke="#222">XGBoost</text>
<text x="216.01" y="467.46" font-size="8.0" text-anchor="middle" fill="#222" stroke="#222">SVM</text>
<text x="250.56" y="467.46" font-size="8.0" text-anchor="middle" fill="#222" stroke="#222">Voting</text>
<text x="285.12" y="467.46" font-size="8.0" text-anchor="middle" fill="#222" stroke="#222">Stacking</text>
<defs><linearGradient id="cb" x1="0" y1="0" x2="0" y2="1"><stop offset="0" stop-color="#6ebdec"/><stop offset="1" stop-color="#ffffff"/></linearGradient></defs>
<rect x="312.3" y="318.7" width="10.9" height="136.8" fill="url(#cb)" stroke="#444" stroke-width="0.9"/>
<line x1="312.30" y1="322.60" x2="314.00" y2="322.60" stroke="#333" stroke-width="0.9"/>
<line x1="321.50" y1="322.60" x2="323.20" y2="322.60" stroke="#333" stroke-width="0.9"/>
<text x="326.70" y="325.46" font-size="8.0" fill="#222" stroke="#222">0.90</text>
<line x1="312.30" y1="359.30" x2="314.00" y2="359.30" stroke="#333" stroke-width="0.9"/>
<line x1="321.50" y1="359.30" x2="323.20" y2="359.30" stroke="#333" stroke-width="0.9"/>
<text x="326.70" y="362.16" font-size="8.0" fill="#222" stroke="#222">0.85</text>
<line x1="312.30" y1="396.00" x2="314.00" y2="396.00" stroke="#333" stroke-width="0.9"/>
<line x1="321.50" y1="396.00" x2="323.20" y2="396.00" stroke="#333" stroke-width="0.9"/>
<text x="326.70" y="398.86" font-size="8.0" fill="#222" stroke="#222">0.80</text>
<line x1="312.30" y1="432.70" x2="314.00" y2="432.70" stroke="#333" stroke-width="0.9"/>
<line x1="321.50" y1="432.70" x2="323.20" y2="432.70" stroke="#333" stroke-width="0.9"/>
<text x="326.70" y="435.56" font-size="8.0" fill="#222" stroke="#222">0.75</text>
<rect x="426.00" y="349.70" width="40.10" height="40.10" fill="#f0665b"/>
<text x="446.05" y="373.43" font-size="8.6" text-anchor="middle" fill="#fff" stroke="#fff">542</text>
<rect x="478.40" y="349.70" width="40.10" height="40.10" fill="#dcdddd"/>
<text x="498.45" y="373.43" font-size="8.6" text-anchor="middle" fill="#222" stroke="#222">92</text>
<rect x="426.00" y="402.80" width="40.10" height="40.10" fill="#dcdddd"/>
<text x="446.05" y="425.53" font-size="8.6" text-anchor="middle" fill="#222" stroke="#222">108</text>
<rect x="478.40" y="402.80" width="40.10" height="40.10" fill="#56c5ec"/>
<text x="498.45" y="425.53" font-size="8.6" text-anchor="middle" fill="#fff" stroke="#fff">357</text>
<text x="472.90" y="322.29" font-size="8.9" text-anchor="middle" fill="#222" stroke="#222">Predicted class</text>
<text x="445.45" y="339.99" font-size="8.9" text-anchor="middle" fill="#222" stroke="#222">Malignant</text>
<text x="497.25" y="339.99" font-size="8.9" text-anchor="middle" fill="#222" stroke="#222">Benign</text>
<text transform="translate(410.20 369.75) rotate(-90)" x="0" y="3.19" font-size="8.9" text-anchor="middle" fill="#222" stroke="#222">Malignant</text>
<text transform="translate(410.20 422.55) rotate(-90)" x="0" y="3.19" font-size="8.9" text-anchor="middle" fill="#222" stroke="#222">Benign</text>
<text transform="translate(390.00 395.40) rotate(-90)" x="0" y="3.19" font-size="8.9" text-anchor="middle" fill="#222" stroke="#222">Actual class</text>
<text x="472.60" y="466.59" font-size="8.9" text-anchor="middle" fill="#222" stroke="#222">Stacking</text>
<rect x="591.40" y="349.80" width="40.20" height="40.20" fill="#f0665b"/>
<text x="611.50" y="372.48" font-size="8.6" text-anchor="middle" fill="#fff" stroke="#fff">511</text>
<rect x="643.60" y="349.80" width="40.20" height="40.20" fill="#dcdddd"/>
<text x="663.70" y="372.48" font-size="8.6" text-anchor="middle" fill="#222" stroke="#222">123</text>
<rect x="591.40" y="402.80" width="40.20" height="40.20" fill="#dcdddd"/>
<text x="611.50" y="425.48" font-size="8.6" text-anchor="middle" fill="#222" stroke="#222">85</text>
<rect x="643.60" y="402.80" width="40.20" height="40.20" fill="#56c5ec"/>
<text x="663.70" y="425.48" font-size="8.6" text-anchor="middle" fill="#fff" stroke="#fff">380</text>
<text x="632.80" y="321.89" font-size="8.9" text-anchor="middle" fill="#222" stroke="#222">Predicted class</text>
<text x="610.20" y="339.79" font-size="8.9" text-anchor="middle" fill="#222" stroke="#222">Malignant</text>
<text x="664.00" y="339.79" font-size="8.9" text-anchor="middle" fill="#222" stroke="#222">Benign</text>
<text transform="translate(574.90 369.90) rotate(-90)" x="0" y="3.19" font-size="8.9" text-anchor="middle" fill="#222" stroke="#222">Malignant</text>
<text transform="translate(574.90 422.60) rotate(-90)" x="0" y="3.19" font-size="8.9" text-anchor="middle" fill="#222" stroke="#222">Benign</text>
<text transform="translate(555.50 395.40) rotate(-90)" x="0" y="3.19" font-size="8.9" text-anchor="middle" fill="#222" stroke="#222">Actual class</text>
<text x="638.00" y="465.09" font-size="8.9" text-anchor="middle" fill="#222" stroke="#222">Voting</text>
</svg>
</body></html>
